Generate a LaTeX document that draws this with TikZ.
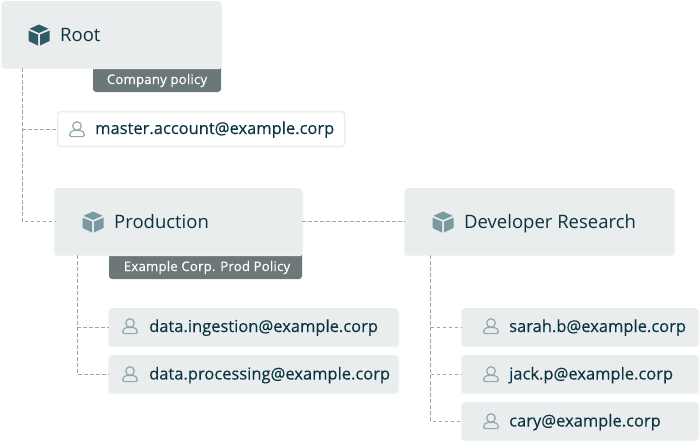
\documentclass[tikz,border=0pt]{standalone}
\usepackage{fontspec}
\setmainfont{Open Sans}
\definecolor{boxfill}{HTML}{E9EDEE}
\definecolor{softedge}{HTML}{F1F3F4}
\definecolor{badgefill}{HTML}{6C7878}
\definecolor{ink}{HTML}{0B3440}
\definecolor{darkcube}{HTML}{2F5A66}
\definecolor{lightcube}{HTML}{7A9AA2}
\definecolor{personline}{HTML}{8FA9AE}
\definecolor{connline}{HTML}{A4A4A4}
\definecolor{whiteedge}{HTML}{E9EDEE}
\tikzset{
  x=1pt,y=-1pt,
  panel/.style={fill=boxfill,rounded corners=3pt,inner sep=0pt,outer sep=0pt,anchor=north west,
    minimum width=#1},
  orgbox/.style={panel=#1,minimum height=67pt},
  userbox/.style={panel=#1,minimum height=38pt},
  whitebox/.style={panel=#1,minimum height=35pt,fill=white,draw=whiteedge,line width=1.5pt},
  badgebox/.style={fill=badgefill,inner sep=0pt,outer sep=0pt,anchor=north west,rounded corners=3pt,minimum width=#1},
  orgtext/.style={text=ink,font=\fontsize{18.5}{20}\selectfont,anchor=base west,inner sep=0pt},
  usertext/.style={text=ink,font=\fontsize{16.5}{18}\selectfont\addfontfeatures{FakeBold=0.15},anchor=base west,inner sep=0pt},
  badgetext/.style={text=white,font=\fontsize{13.2}{15}\selectfont\addfontfeatures{FakeBold=0.4,LetterSpace=1.5},anchor=base,inner sep=0pt},
  conn/.style={draw=connline,line width=1pt,dash pattern=on 3.5pt off 2.5pt},
  pics/cube/.style={code={
    \fill[#1] (0,-10.5) -- (9.5,-6.2) -- (0,-2) -- (-9.5,-6.2) -- cycle;
    \fill[#1] (-10.5,-4.4) -- (-1,-0.4) -- (-1,10.5) -- (-10.5,6) -- cycle;
    \fill[#1] (10.5,-4.4) -- (1,-0.4) -- (1,10.5) -- (10.5,6) -- cycle;
  }},
  pics/person/.style={code={
    \draw[personline,line width=1.2pt] (0,-3) circle[radius=4.3];
    \draw[personline,line width=1.2pt]
      (-7.5,6) .. controls (-7.5,3) and (-5,1.6) .. (-3,1.4)
      -- (3,1.4) .. controls (5,1.6) and (7.5,3) .. (7.5,6)
      .. controls (7.5,7.2) and (7,7.6) .. (6,7.6) -- (-6,7.6)
      .. controls (-7,7.6) and (-7.5,7.2) .. (-7.5,6) -- cycle;
  }}
}
\begin{document}
\begin{tikzpicture}
\useasboundingbox (0,0) rectangle (700,442);
% badges
\node[badgebox=128pt,minimum height=32pt] (rootbadge) at (93,60) {};
\node[badgebox=193pt,minimum height=29pt] (prodbadge) at (109,250) {};
% soft edges
\foreach \a/\b/\c/\d in {2/2/221/69,55/189/302/256,405/189/674/256,109/309/398/347,109/356/398/394,462/309/698/347,462/356/698/394,462/403/698/441}
  \fill[softedge,rounded corners=3pt] (\a-1,\b) rectangle (\c+1,\d);
% boxes
\node[orgbox=219pt] (root) at (2,1) {};
\node[whitebox=287pt] (master) at (57.5,111.5) {};
\node[orgbox=247pt] (prod) at (55,188) {};
\node[orgbox=269pt] (dev) at (405,188) {};
\node[userbox=289pt] (ingest) at (109,308) {};
\node[userbox=289pt] (process) at (109,355) {};
\node[userbox=236pt] (sarah) at (462,308) {};
\node[userbox=236pt] (jack) at (462,355) {};
\node[userbox=236pt] (cary) at (462,402) {};
% connectors
\coordinate (roottrunk) at ([xshift=20pt]root.south west);
\coordinate (prodtrunk) at ([xshift=22pt]prod.south west);
\coordinate (devtrunk) at ([xshift=25.5pt]dev.south west);
\draw[conn] (roottrunk) |- (prod.west);
\draw[conn] (roottrunk |- master.west) -- (master.west);
\draw[conn] (prod.east) -- (dev.west);
\draw[conn] (prodtrunk) |- (process.west);
\draw[conn] (prodtrunk |- ingest.west) -- (ingest.west);
\draw[conn] (devtrunk) |- (cary.west);
\draw[conn] (devtrunk |- sarah.west) -- (sarah.west);
\draw[conn] (devtrunk |- jack.west) -- (jack.west);
% icons
\pic at (39,35) {cube=darkcube};
\pic at (93,222) {cube=lightcube};
\pic at (443,222) {cube=lightcube};
\pic at (77,129) {person};
\pic at (130,326) {person};
\pic at (130,374) {person};
\pic at (491,326) {person};
\pic at (491,374) {person};
\pic at (491,421) {person};
% texts
\node[orgtext] (roott) at (60,41) {Root};
\node[orgtext] (prodt) at (114,228) {Production};
\node[orgtext] (devt) at (464,228) {Developer Research};
\node[usertext] (mastert) at (95,134) {master.account@example.corp};
\node[usertext] (ingestt) at (149,332) {data.ingestion@example.corp};
\node[usertext] (processt) at (149,379.5) {data.processing@example.corp};
\node[usertext] (saraht) at (509,332) {sarah.b@example.corp};
\node[usertext] (jackt) at (509,379.5) {jack.p@example.corp};
\node[usertext] (caryt) at (509,426.5) {cary@example.corp};
\node[badgetext] (rootbt) at (157,84) {Company policy};
\node[badgetext] (prodbt) at (207,271) {Example Corp. Prod Policy};
\end{tikzpicture}
\end{document}
